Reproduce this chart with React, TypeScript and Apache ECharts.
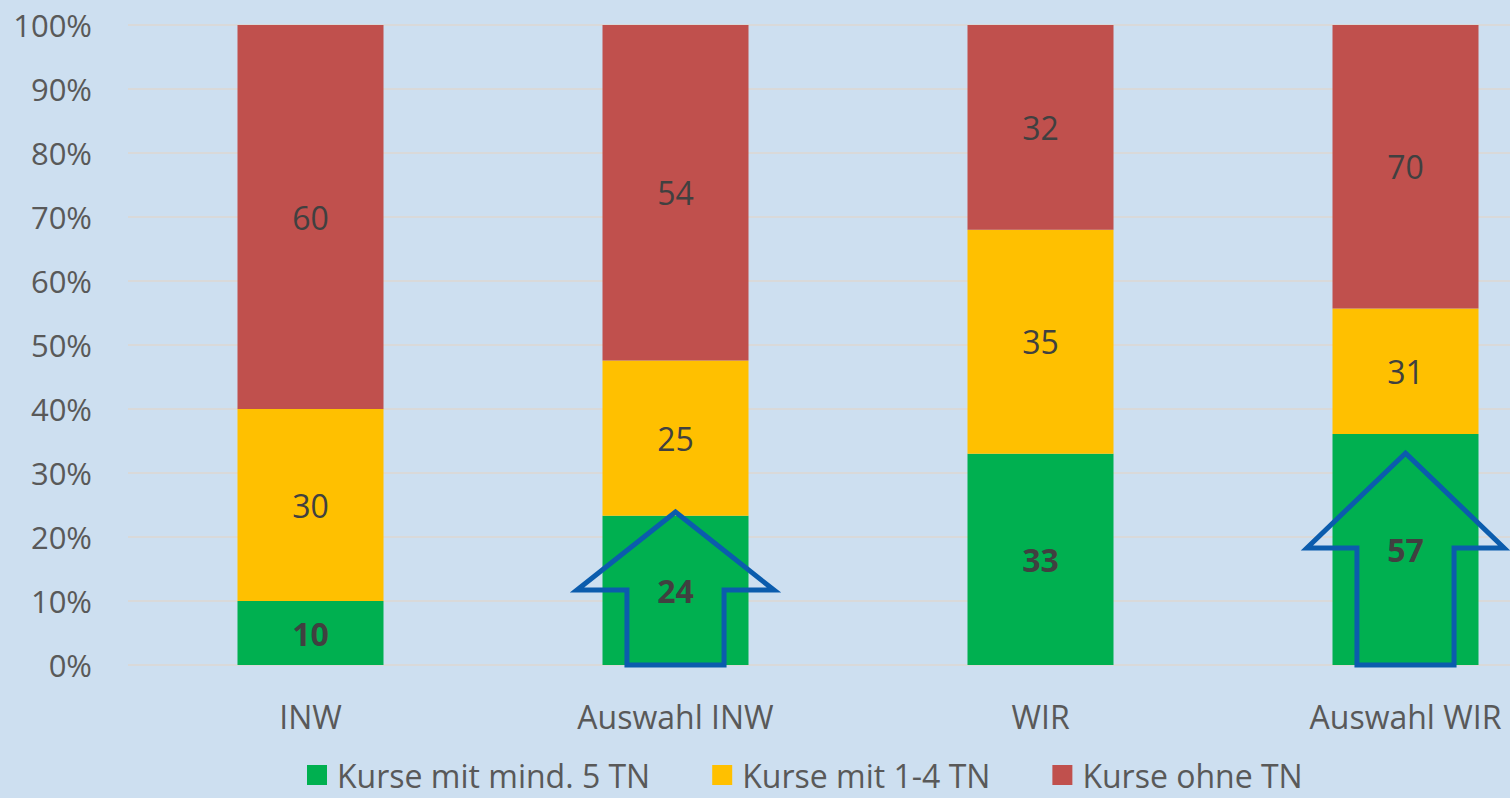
import React, { useEffect, useRef } from "react";
import * as echarts from "echarts";

const categories = ["INW", "Auswahl INW", "WIR", "Auswahl WIR"];
const seriesNames = ["Kurse mit mind. 5 TN", "Kurse mit 1-4 TN", "Kurse ohne TN"];
const green = [10, 24, 33, 57];
const yellow = [30, 25, 35, 31];
const red = [60, 54, 32, 70];
const yTicks = [0, 10, 20, 30, 40, 50, 60, 70, 80, 90, 100];
// Highlight arrows: category index, tip (% of axis), shoulder (% of axis)
const arrowCategory = [1, 3];
const arrowTip = [23.9, 33.1];
const arrowShoulder = [11.7, 18.3];

const colors = ["#00B050", "#FFC000", "#C0504D"];
const FONT = "Open Sans";

export default function App() {
  const ref = useRef<HTMLDivElement>(null);
  useEffect(() => {
    if (!ref.current) return;
    const chart = echarts.init(ref.current, null, { renderer: "svg" });
    const raw = [green, yellow, red];
    const totals = categories.map((_, i) => green[i] + yellow[i] + red[i]);
    const pct = raw.map((arr) => arr.map((v, i) => (v / totals[i]) * 100));

    const barSeries = raw.map((arr, s) => ({
      name: seriesNames[s],
      type: "bar",
      stack: "total",
      barWidth: "40%",
      data: pct[s],
      itemStyle: { color: colors[s] },
      label: {
        show: true,
        position: "inside",
        formatter: (p: any) => String(arr[p.dataIndex]),
        fontFamily: FONT,
        fontSize: 32,
        fontWeight: s === 0 ? "bold" : "normal",
        color: "#404040",
      },
    }));

    const arrowData = arrowCategory.map((c, i) => [c, arrowTip[i], arrowShoulder[i]]);

    chart.setOption({
      animation: false,
      backgroundColor: "#CDDFF0",
      grid: {
        left: 128,
        top: 25,
        width: 1460,
        height: 640,
        containLabel: false,
        outerBoundsMode: "none",
      },
      legend: {
        data: seriesNames,
        top: 759,
        left: 307,
        padding: 0,
        icon: "rect",
        itemWidth: 20,
        itemHeight: 20,
        itemGap: 62,
        textStyle: {
          fontFamily: FONT,
          fontSize: 32,
          color: "#595959",
          lineHeight: 32,
          padding: [0, 0, 0, 5],
        },
      },
      xAxis: {
        type: "category",
        data: categories,
        axisLine: { show: false },
        axisTick: { show: false },
        axisLabel: { fontFamily: FONT, fontSize: 32, color: "#595959", margin: 35 },
      },
      yAxis: {
        type: "value",
        min: 0,
        max: 100,
        interval: 10,
        axisLabel: {
          fontFamily: FONT,
          fontSize: 31,
          color: "#595959",
          margin: 36,
          formatter: (v: number) => (yTicks.includes(v) ? v + "%" : ""),
        },
        splitLine: { lineStyle: { color: "#D9D9D9", width: 2 } },
        axisLine: { show: false },
        axisTick: { show: false },
      },
      series: [
        ...barSeries,
        {
          type: "custom",
          z: 10,
          silent: true,
          data: arrowData,
          renderItem: (params: any, api: any) => {
            const c = api.value(0);
            const tip = api.coord([c, api.value(1)]);
            const sh = api.coord([c, api.value(2)]);
            const base = api.coord([c, 0]);
            const bw = api.size([1, 0])[0];
            const wing = bw * 0.27;
            const shaft = bw * 0.133;
            const x = tip[0];
            return {
              type: "polygon",
              shape: {
                points: [
                  [x, tip[1]],
                  [x + wing, sh[1]],
                  [x + shaft, sh[1]],
                  [x + shaft, base[1]],
                  [x - shaft, base[1]],
                  [x - shaft, sh[1]],
                  [x - wing, sh[1]],
                ],
              },
              style: { fill: "none", stroke: "#0B5CAD", lineWidth: 5, lineJoin: "miter" },
            };
          },
        },
      ],
    });
    return () => chart.dispose();
  }, []);
  return (
    <div
      ref={ref}
      style={{ position: "fixed", left: 0, top: 0, width: 1510, height: 798 }}
    />
  );
}
